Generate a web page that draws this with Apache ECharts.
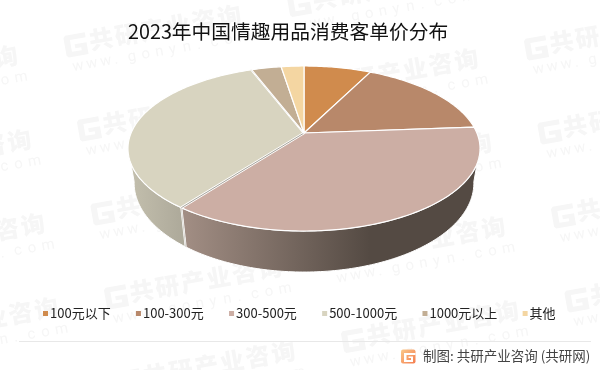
<!DOCTYPE html>
<html><head><meta charset="utf-8">
<style>html,body{margin:0;padding:0;background:#fff}#c{width:600px;height:370px}</style>
<script src="https://cdn.jsdelivr.net/npm/echarts@6/dist/echarts.min.js"></script>
</head><body><div id="c"></div>
<script>
var categories = ['100元以下','100-300元','300-500元','500-1000元','1000元以上','其他'];
var shares = [7.4,16.4,36.5,33.9,3.3,2.5];
var topColors = ['#d08b4d','#b8886a','#ccaea4','#d8d4c0','#c2ae94','#f4d6a2'];
var wallColors = [null,null,['#a38f85','#544a43'],['#aca899','#c4c0ae'],null,null];
var titleText = '2023年中国情趣用品消费客单价分布';
var footerText = '制图: 共研产业咨询 (共研网)';

var CX=304, CY=133, RX=172.9, RY=79.6, K=0.188, D=33.3, S=0.965;
var WALL_FROM=100, WALL_TO=260;
var FONT='"Noto Sans CJK SC","Noto Sans",sans-serif';
var total = shares.reduce(function(a,b){return a+b;},0);

function pt(deg,bottom){
  var r=deg*Math.PI/180,u=Math.sin(r),v=-Math.cos(r),w=1-K*v;
  var x=RX*u/w,y=RY*v/w;
  if(bottom){x*=S;y+=D/w;}
  return [CX+x,CY+y];
}
function arc(a,b,bottom){
  var n=Math.max(2,Math.ceil(Math.abs(b-a))),out=[];
  for(var i=0;i<=n;i++)out.push(pt(a+(b-a)*i/n,bottom));
  return out;
}
function makeRender(idx){
  return function(params,api){
    var before=0;
    for(var i=0;i<idx;i++)before+=shares[i];
    var a=before/total*360,b=a+api.value(0)/total*360;
    var kids=[];
    if(wallColors[idx]){
      var f=Math.max(a,WALL_FROM),t=Math.min(b,WALL_TO);
      var poly=arc(f,t,false).concat(arc(t,f,true));
      kids.push({type:'polygon',shape:{points:poly},style:{
        fill:{type:'linear',x:0,y:0,x2:1,y2:0,colorStops:idx===2?
          [{offset:0,color:wallColors[idx][0]},{offset:0.63,color:wallColors[idx][1]},{offset:1,color:wallColors[idx][1]}]:
          [{offset:0,color:wallColors[idx][1]},{offset:1,color:wallColors[idx][0]}]},
        stroke:'#fff',lineWidth:1}});
    }
    if(idx===3){
      var e0=pt(a,false),e1=pt(a,true);
      kids.push({type:'line',shape:{x1:e0[0],y1:e0[1],x2:e1[0],y2:e1[1]},style:{stroke:'#fff',lineWidth:2}});
      kids.push({type:'line',shape:{x1:e0[0],y1:e0[1],x2:e1[0],y2:e1[1]},style:{stroke:'#b3ada1',lineWidth:0.5}});
    }
    var top=[[CX,CY]].concat(arc(a,b,false));
    kids.push({type:'polygon',shape:{points:top},style:{fill:api.visual('color'),stroke:'#fff',lineWidth:1.2,lineJoin:'round'}});
    if(idx===3){
      [a,b].forEach(function(d){
        var e=pt(d,false);
        kids.push({type:'line',shape:{x1:CX,y1:CY,x2:e[0],y2:e[1]},style:{stroke:'#fff',lineWidth:2.6}});
        kids.push({type:'line',shape:{x1:CX,y1:CY,x2:e[0],y2:e[1]},style:{stroke:'#8f8b80',lineWidth:0.8}});
      });
    }
    return {type:'group',children:kids};
  };
}

var series = categories.map(function(n,i){
  return {type:'custom',name:n,coordinateSystem:'none',silent:true,
    itemStyle:{color:topColors[i]},data:[[shares[i]]],renderItem:makeRender(i),animation:false};
});

/* background watermark */
var markChars='共研产业咨询', markUrl='www.gonyn.com', graphics=[];
var MARK='#f6f6f6';
function wm(x,y){
  var kids=[{type:'polygon',shape:{points:[[2,-11],[22,-11],[22,-6],[6,-6],[6,6],[16,6],[16,3],[10,3],[10,-1],[22,-1],[22,11],[2,11],[0,9],[0,-9]]},style:{fill:MARK}}];
  markChars.split('').forEach(function(c,i){
    kids.push({type:'text',x:25+i*26,y:-14,style:{text:c,font:'900 24px '+FONT,fill:MARK}});
  });
  markUrl.split('').forEach(function(c,i){
    kids.push({type:'text',x:4+i*14,y:14,style:{text:c,font:'15px Roboto,sans-serif',fill:MARK}});
  });
  graphics.push({type:'group',x:x,y:y,rotation:10*Math.PI/180,children:kids});
}
for(var j=-1;j<=2;j++)for(var i=-1;i<=4;i++){
  var gx=65+i*13.5+j*237, gy=47+i*84+j*43.5;
  if(gy<400&&gy>-20)wm(gx,gy);
}
graphics.push({type:'line',shape:{x1:19,y1:341.5,x2:591,y2:341.5},style:{stroke:'#e8e8e8',lineWidth:1}});
graphics.push({type:'rect',shape:{x:401,y:349.5,width:14.5,height:14,r:2},style:{fill:{type:'linear',x:0,y:0,x2:1,y2:1,colorStops:[{offset:0,color:'#fbc98a'},{offset:1,color:'#f47c4e'}]}}});
graphics.push({type:'polygon',shape:{points:[[404,353],[415.5,353],[415.5,355],[406.5,355],[406.5,360],[411,360],[411,358],[408.5,358],[408.5,356.5],[413,356.5],[413,362],[404,362]]},style:{fill:'#fff'}});
graphics.push({type:'text',x:423,y:349,style:{text:footerText,font:'13.5px '+FONT,fill:'#444'}});

var chart=echarts.init(document.getElementById('c'),null,{renderer:'canvas'});
chart.setOption({
  backgroundColor:'#fff',
  animation:false,
  title:{text:titleText,left:128,top:22,padding:0,textStyle:{fontFamily:FONT,fontSize:19.75,fontWeight:400,color:'#111'}},
  legend:{data:categories,left:43,top:307,padding:0,itemWidth:5,itemHeight:5,itemGap:25.3,icon:'rect',
    textStyle:{fontFamily:FONT,fontSize:13,color:'#222',padding:[0,0,0,-3]}},
  graphic:{elements:graphics},
  series:series
});
</script></body></html>
